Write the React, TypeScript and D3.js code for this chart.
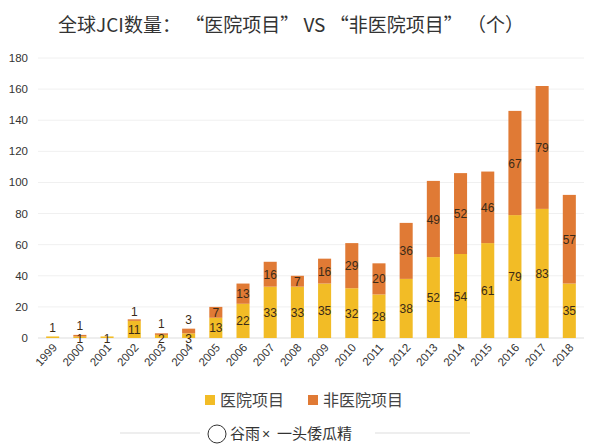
import * as d3 from "d3";

const years = ["1999","2000","2001","2002","2003","2004","2005","2006","2007","2008","2009","2010","2011","2012","2013","2014","2015","2016","2017","2018"];
const hospital = [1, 1, 1, 11, 2, 3, 13, 22, 33, 33, 35, 32, 28, 38, 52, 54, 61, 79, 83, 35];
const nonHospital = [0, 1, 0, 1, 1, 3, 7, 13, 16, 7, 16, 29, 20, 36, 49, 52, 46, 67, 79, 57];
const yTicks = [0, 20, 40, 60, 80, 100, 120, 140, 160, 180];

const title = "全球JCI数量： “医院项目” VS “非医院项目” （个）";
const seriesNames = ["医院项目", "非医院项目"];
const colors = ["#F2BC26", "#E07A35"];

export default function App() {
  const width = 596, height = 446;
  const marginLeft = 38, marginRight = 12, top = 58, bottom = 338;

  const x = d3.scaleBand(years, [marginLeft, width - marginRight]).paddingInner(0.52).paddingOuter(0.3);
  const y = d3.scaleLinear([0, 180], [bottom, top]);

  const font = "'Liberation Sans', Arial, sans-serif";
  const cjk = "'Noto Sans CJK SC', sans-serif";

  // label baseline for the hospital segment
  const hospY = (i: number) => {
    const h0 = hospital[i];
    if (i === 0) return y(h0) - 4;           // lone tiny bar: label above
    if (h0 < 5) return y(0) + 5;             // tiny segment: straddle the axis
    return (y(0) + y(h0)) / 2 + 4.5;
  };

  return (
    <svg width={width} height={height} style={{ position: "absolute", left: 0, top: 0, background: "#fff" }}>
      <text x={291} y={32} textAnchor="middle" fontFamily={cjk} fontSize={19} fill="#333">{title}</text>

      {yTicks.map(t => (
        <g key={t}>
          <line x1={marginLeft} x2={width - marginRight} y1={y(t)} y2={y(t)} stroke={t === 0 ? "#ddd" : "#f0f0f0"} />
          <text x={28} y={y(t) + 4} textAnchor="end" fontFamily={font} fontSize={11.5} fill="#333">{t}</text>
        </g>
      ))}

      {years.map((yr, i) => {
        const bx = x(yr)!;
        const bw = x.bandwidth();
        const h0 = hospital[i], h1 = nonHospital[i];
        const cx = bx + bw / 2;
        const topY = y(h0 + h1);
        return (
          <g key={yr}>
            <rect x={bx} width={bw} y={y(h0)} height={y(0) - y(h0)} fill={colors[0]} />
            {h1 > 0 && <rect x={bx} width={bw} y={y(h0 + h1)} height={y(h0) - y(h0 + h1)} fill={colors[1]} />}
            <text x={cx} y={hospY(i)} textAnchor="middle" fontFamily={font} fontSize={12} fill="#3a2a18">{h0}</text>
            {h1 > 0 && (
              <text x={cx} y={h1 < 5 ? topY - (h0 < 5 ? 5 : 3) : (y(h0) + y(h0 + h1)) / 2 + 4.5} textAnchor="middle" fontFamily={font} fontSize={12} fill="#3a2a18">{h1}</text>
            )}
            <text transform={`translate(${cx + 5},${bottom + 10}) rotate(-48)`} textAnchor="end" fontFamily={font} fontSize={11.5} fill="#333">{yr}</text>
          </g>
        );
      })}

      <g fontFamily={cjk} fontSize={16} fill="#444">
        <rect x={205} y={395} width={10} height={10} fill={colors[0]} />
        <text x={220} y={406}>{seriesNames[0]}</text>
        <rect x={308} y={395} width={10} height={10} fill={colors[1]} />
        <text x={323} y={406}>{seriesNames[1]}</text>
      </g>

      <line x1={120} x2={200} y1={433} y2={433} stroke="#ddd" />
      <line x1={375} x2={470} y1={433} y2={433} stroke="#ddd" />
      <circle cx={217} cy={434} r={9} fill="none" stroke="#333" strokeWidth={1} />
      <text x={230} y={439} fontFamily={cjk} fontSize={15} fill="#333">谷雨</text>
      <text x={262} y={439} fontFamily={font} fontSize={14} fill="#333">×</text>
      <text x={277} y={439} fontFamily={cjk} fontSize={15} fill="#333">一头倭瓜精</text>
    </svg>
  );
}
